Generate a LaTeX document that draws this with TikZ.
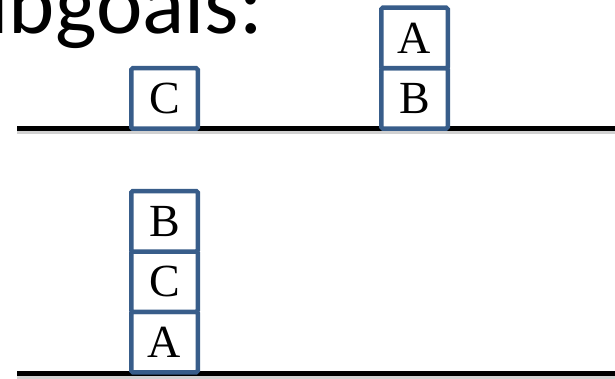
\documentclass[tikz,border=0pt]{standalone}
\usepackage{fontspec}
\setmainfont{Liberation Serif}
\newfontfamily\titlefont{Carlito}
\definecolor{boxblue}{HTML}{385D8A}
\begin{document}
\begin{tikzpicture}[x=1pt,y=-1pt,
  blockbox/.style={draw=boxblue,line width=4.5pt,fill=white,rounded corners=1.5pt,
    minimum width=66.5pt,minimum height=60.5pt,inner sep=0pt,
    font=\fontsize{46}{50}\selectfont},
  ground/.style={line width=5.5pt,black},
  groundshadow/.style={line width=4pt,black!18}]
\useasboundingbox (0,0) rectangle (615,379);
% title
\node[anchor=base east,inner sep=0pt,font=\titlefont\fontsize{88}{100}\selectfont] (title) at (263,34) {Subgoals:};
% ground lines
\coordinate (g1l) at (17,128.5);
\coordinate (g1r) at (620,128.5);
\coordinate (g2l) at (17,373.5);
\coordinate (g2r) at (620,373.5);
\draw[groundshadow] ([yshift=-4pt]g1l) -- ([yshift=-4pt]g1r);
\draw[groundshadow] ([yshift=-4pt]g2l) -- ([yshift=-4pt]g2r);
\draw[ground] (g1l) -- (g1r);
\draw[ground] (g2l) -- (g2r);
% top row
\node[blockbox] (c1) at (164.5,98.5) {C};
\node[blockbox] (b1) at (414.5,98.3) {B};
\node[blockbox] (a1) at (414.5,38) {A};
% bottom stack
\node[blockbox] (a2) at (164.5,342) {A};
\node[blockbox] (c2) at (164.5,281.5) {C};
\node[blockbox] (b2) at (164.5,221.3) {B};
\end{tikzpicture}
\end{document}
